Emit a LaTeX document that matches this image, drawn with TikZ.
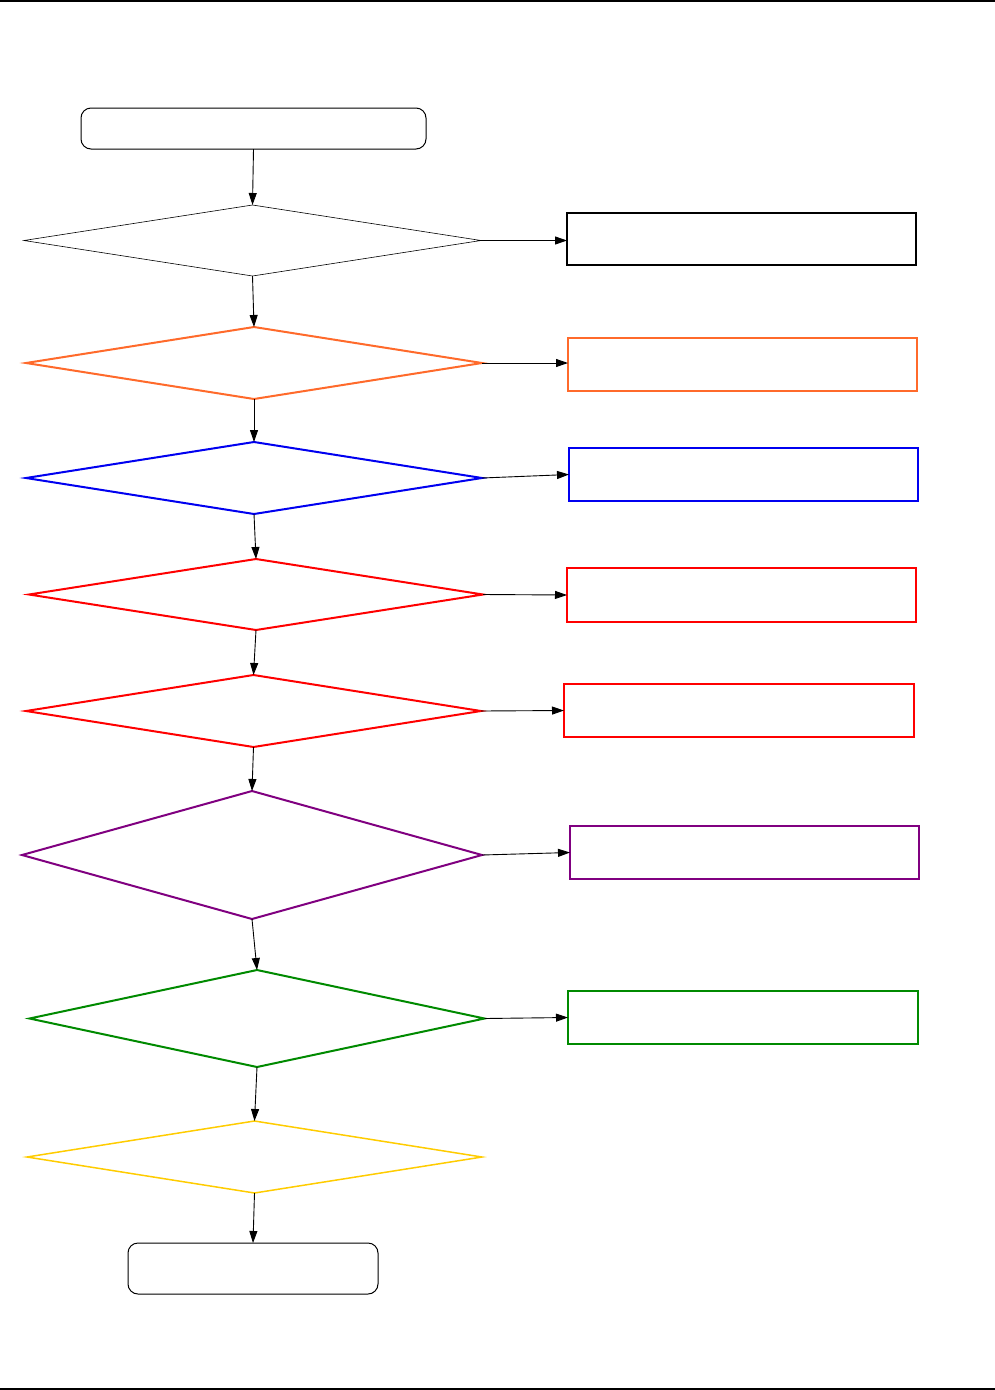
\documentclass[tikz,border=0pt]{standalone}
\usepackage{tikz}
\usetikzlibrary{arrows.meta, shapes.geometric}
\definecolor{stepblack}{HTML}{000000}
\definecolor{steporange}{HTML}{FF6A2B}
\definecolor{stepblue}{HTML}{0000F0}
\definecolor{stepred}{HTML}{FF0000}
\definecolor{steppurple}{HTML}{800080}
\definecolor{stepgreen}{HTML}{008A00}
\definecolor{stepyellow}{HTML}{FFCC00}

\begin{document}
\begin{tikzpicture}[
    x=1pt, y=-1pt,
    >={Triangle[length=12pt, width=8pt]},
    every node/.style={inner sep=0pt, outer sep=0pt},
    termbox/.style={
        draw=black, line width=1pt, rounded corners=10pt,
        rectangle, fill=white
    },
    checkbox/.style={
        diamond, draw=#1, line width=2pt, fill=white,
        minimum width=456, minimum height=72
    },
    actionbox/.style={
        rectangle, draw=#1, line width=2pt, fill=white,
        minimum width=349, minimum height=53
    },
    arrstyle/.style={->, line width=0.9pt, black},
    rulestyle/.style={line width=1.5pt, black},
]
\useasboundingbox (0,0) rectangle (995,1390);

% === page rules ===
\draw[rulestyle] (0,1) -- (995,1);
\draw[rulestyle] (0,1389) -- (995,1389);

% === Start ===
\node[termbox, minimum width=345, minimum height=41] (start) at (253.5,128.5) {};

% === Checks (left column) ===
\node[checkbox=black, line width=0.6pt, minimum width=457, minimum height=71] (chk1) at (252.5,240.5) {};
\node[checkbox=steporange] (chk2) at (254,363) {};
\node[checkbox=stepblue] (chk3) at (254,478) {};
\node[checkbox=stepred, minimum width=454, minimum height=71] (chk4) at (256,594.5) {};
\node[checkbox=stepred, minimum width=455] (chk5) at (253.5,711) {};
\node[checkbox=steppurple, minimum width=460, minimum height=128] (chk6) at (252,855) {};
\node[checkbox=stepgreen, minimum width=455, minimum height=97] (chk7) at (257,1018.5) {};
\node[checkbox=stepyellow, line width=1.5pt, minimum width=455] (chk8) at (254.5,1157) {};

% === End ===
\node[termbox, minimum width=250, minimum height=51] (finish) at (253,1268.5) {};

% === Actions (right column) ===
\node[actionbox=black, minimum height=52] (act1) at (741.5,239) {};
\node[actionbox=steporange] (act2) at (742.5,364.5) {};
\node[actionbox=stepblue] (act3) at (743.5,474.5) {};
\node[actionbox=stepred, minimum height=54] (act4) at (741.5,595) {};
\node[actionbox=stepred, minimum width=350] (act5) at (739,710.5) {};
\node[actionbox=steppurple] (act6) at (744.5,852.5) {};
\node[actionbox=stepgreen, minimum width=350] (act7) at (743,1017.5) {};

% === Arrows down ===
\draw[arrstyle] (start.south) -- (chk1.north);
\draw[arrstyle] (chk1.south) -- (chk2.north);
\draw[arrstyle] (chk2.south) -- (chk3.north);
\draw[arrstyle] (chk3.south) -- (chk4.north);
\draw[arrstyle] (chk4.south) -- (chk5.north);
\draw[arrstyle] (chk5.south) -- (chk6.north);
\draw[arrstyle] (chk6.south) -- (chk7.north);
\draw[arrstyle] (chk7.south) -- (chk8.north);
\draw[arrstyle] (chk8.south) -- (finish.north);

% === Arrows right ===
\draw[arrstyle] (chk1.east) -- (act1.west |- chk1.east);
\draw[arrstyle] (chk2.east) -- (act2.west |- chk2.east);
\draw[arrstyle] (chk3.east) -- (act3.west);
\draw[arrstyle] (chk4.east) -- (act4.west);
\draw[arrstyle] (chk5.east) -- (act5.west);
\draw[arrstyle] (chk6.east) -- (act6.west);
\draw[arrstyle] (chk7.east) -- (act7.west);

\end{tikzpicture}
\end{document}
